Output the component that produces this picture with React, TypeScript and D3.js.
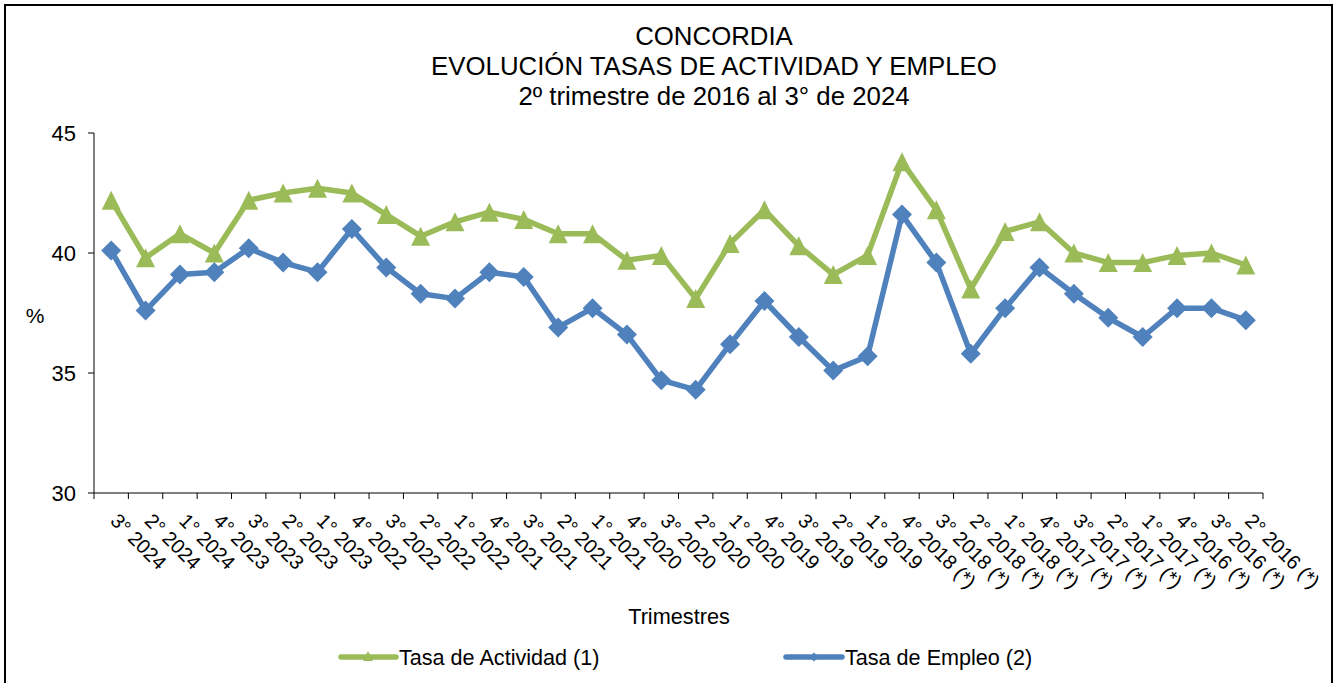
import React from 'react';
import * as d3 from 'd3';

const categories: string[] = [
  "3° 2024", "2° 2024", "1° 2024",
  "4° 2023", "3° 2023", "2° 2023", "1° 2023",
  "4° 2022", "3° 2022", "2° 2022", "1° 2022",
  "4° 2021", "3° 2021", "2° 2021", "1° 2021",
  "4° 2020", "3° 2020", "2° 2020", "1° 2020",
  "4° 2019", "3° 2019", "2° 2019", "1° 2019",
  "4° 2018 (*)", "3° 2018 (*)", "2° 2018 (*)", "1° 2018 (*)",
  "4° 2017 (*)", "3° 2017 (*)", "2° 2017 (*)", "1° 2017 (*)",
  "4° 2016 (*)", "3° 2016 (*)", "2° 2016 (*)",
];

const actividad: number[] = [
  42.2, 39.8, 40.8, 40.0, 42.2, 42.5, 42.7, 42.5, 41.6, 40.7, 41.3, 41.7,
  41.4, 40.8, 40.8, 39.7, 39.9, 38.1, 40.4, 41.8, 40.3, 39.1, 39.9, 43.8,
  41.8, 38.5, 40.9, 41.3, 40.0, 39.6, 39.6, 39.9, 40.0, 39.5,
];

const empleo: number[] = [
  40.1, 37.6, 39.1, 39.2, 40.2, 39.6, 39.2, 41.0, 39.4, 38.3, 38.1, 39.2,
  39.0, 36.9, 37.7, 36.6, 34.7, 34.3, 36.2, 38.0, 36.5, 35.1, 35.7, 41.6,
  39.6, 35.8, 37.7, 39.4, 38.3, 37.3, 36.5, 37.7, 37.7, 37.2,
];

const yTicks: number[] = [30, 35, 40, 45];

const titleLines: string[] = [
  "CONCORDIA",
  "EVOLUCIÓN TASAS DE ACTIVIDAD Y EMPLEO",
  "2º trimestre de 2016 al 3° de 2024",
];

const seriesNames: string[] = ["Tasa de Actividad (1)", "Tasa de Empleo (2)"];
const GREEN = "#9BBB59";
const BLUE = "#4F81BD";
const FONT = "'Liberation Sans', Arial, sans-serif";

const W = 1337;
const H = 683;
const PL = 94, PR = 1263, PT = 133, PB = 493;

function triPath(s: number) {
  return `M0,${-s}L${s},${s}L${-s},${s}Z`;
}
function diaPath(s: number) {
  return `M0,${-s}L${s},0L0,${s}L${-s},0Z`;
}

export default function App() {
  const x = d3.scaleBand<string>().domain(categories).range([PL, PR]).padding(0);
  const y = d3.scaleLinear().domain([30, 45]).range([PB, PT]);
  const cx = (i: number) => (x(categories[i]) as number) + x.bandwidth() / 2;

  const line = d3.line<number>().x((_, i) => cx(i)).y((d) => y(d));

  const boundaries = d3.range(categories.length + 1).map((i) => PL + i * x.bandwidth());

  return (
    <svg width={W} height={H} style={{ position: 'absolute', left: 0, top: 0, background: '#fff' }}
      fontFamily={FONT}>
      <rect x={0} y={0} width={W} height={H} fill="#fff" />
      <rect x={5} y={5} width={1327} height={700} fill="none" stroke="#000" strokeWidth={2} />

      {titleLines.map((t, i) => (
        <text key={i} x={714} y={45 + i * 30} textAnchor="middle" fontSize={25.8} fill="#000">{t}</text>
      ))}

      {/* Y axis */}
      <line x1={PL} x2={PL} y1={PT} y2={PB} stroke="#000" strokeWidth={1} />
      {yTicks.map((t) => (
        <g key={t}>
          <line x1={PL - 6} x2={PL} y1={y(t)} y2={y(t)} stroke="#000" strokeWidth={1} />
          <text x={76} y={y(t)} dy="0.35em" textAnchor="end" fontSize={22} fill="#000">{t}</text>
        </g>
      ))}
      <text x={35} y={316} dy="0.35em" textAnchor="middle" fontSize={21} fill="#000">%</text>

      {/* X axis */}
      <line x1={PL} x2={PR} y1={PB} y2={PB} stroke="#000" strokeWidth={1} />
      {boundaries.map((b, i) => (
        <line key={i} x1={b} x2={b} y1={PB} y2={PB + 6} stroke="#000" strokeWidth={1} />
      ))}
      {categories.map((c, i) => (
        <text key={c} transform={`translate(${cx(i) - 2},522) rotate(45)`} fontSize={20} fill="#000">{c}</text>
      ))}
      <text x={679} y={624} textAnchor="middle" fontSize={21.7} fill="#000">Trimestres</text>

      {/* Series */}
      <path d={line(actividad) as string} fill="none" stroke={GREEN} strokeWidth={5.5} strokeLinejoin="round" />
      {actividad.map((v, i) => (
        <path key={i} d={triPath(9.5)} transform={`translate(${cx(i)},${y(v)})`} fill={GREEN} />
      ))}
      <path d={line(empleo) as string} fill="none" stroke={BLUE} strokeWidth={5.5} strokeLinejoin="round" />
      {empleo.map((v, i) => (
        <path key={i} d={diaPath(10)} transform={`translate(${cx(i)},${y(v)})`} fill={BLUE} />
      ))}

      {/* Legend */}
      <line x1={341} x2={396} y1={657} y2={657} stroke={GREEN} strokeWidth={5.5} strokeLinecap="round" />
      <path d={triPath(5)} transform="translate(368,656)" fill={GREEN} />
      <text x={399} y={665} fontSize={21.6} fill="#000">{seriesNames[0]}</text>
      <line x1={786} x2={842} y1={657} y2={657} stroke={BLUE} strokeWidth={5.5} strokeLinecap="round" />
      <path d={diaPath(4.5)} transform="translate(814,657)" fill={BLUE} />
      <text x={845} y={665} fontSize={21.6} fill="#000">{seriesNames[1]}</text>
    </svg>
  );
}
